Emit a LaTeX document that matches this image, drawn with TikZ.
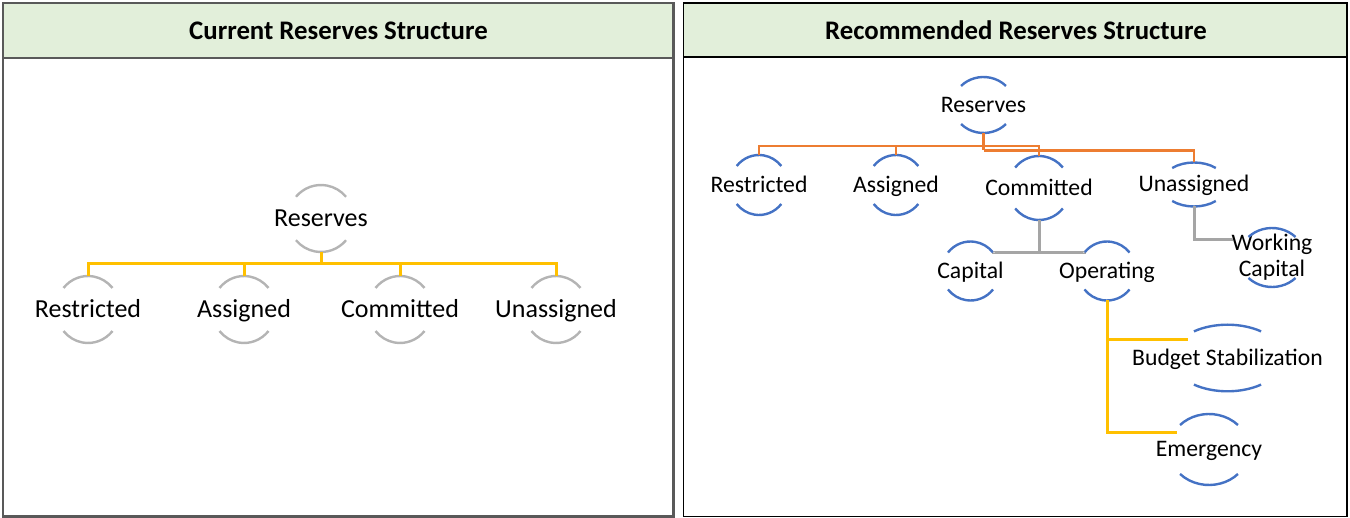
\documentclass[tikz,border=0pt]{standalone}
\usepackage{fontspec}
\setmainfont{Carlito}
\definecolor{headgreen}{HTML}{E2EFDA}
\definecolor{ringgray}{HTML}{B4B4B4}
\definecolor{ringblue}{HTML}{4472C4}
\definecolor{linkorange}{HTML}{ED7D31}
\definecolor{linkyellow}{HTML}{FFC000}
\definecolor{linkgray}{HTML}{A5A5A5}
\definecolor{framegray}{HTML}{595959}

% #1 arc style, #2 name, #3 x, #4 y, #5 x radius, #6 y radius,
% #7 half-opening angle of each arc, #8 label style, #9 label text
\newcommand\halo[9]{%
  \pgfmathsetmacro\hx{#5*cos(#7)}%
  \pgfmathsetmacro\hy{#6*sin(#7)}%
  \node[#8] (#2) at (#3,#4) {#9};
  \coordinate (#2-t) at (#3,#4-#6);
  \coordinate (#2-b) at (#3,#4+#6);
  \coordinate (#2-tl) at (#3-\hx,#4-\hy);
  \coordinate (#2-tr) at (#3+\hx,#4-\hy);
  \draw[#1] (#2-tl) arc[start angle={180+#7}, end angle={360-#7}, x radius=#5, y radius=#6];
  \draw[#1] (#3+\hx,#4+\hy) arc[start angle=#7, end angle={180-#7}, x radius=#5, y radius=#6];
}

\begin{document}
\begin{tikzpicture}[x=1pt,y=-1pt,
  header/.style={fill=headgreen},
  title/.style={font=\fontsize{26.8}{30}\selectfont\bfseries},
  ltext/.style={font=\fontsize{26}{30}\selectfont, inner sep=0pt, anchor=base, yshift=-0.32em-4.5pt},
  rtext/.style={font=\fontsize{23.7}{27}\selectfont, inner sep=0pt, anchor=base, yshift=-0.32em-4pt},
  graying/.style={draw=ringgray, line width=2.4pt},
  bluering/.style={draw=ringblue, line width=2.4pt},
  yellink/.style={draw=linkyellow, line width=3pt},
  oranlink/.style={draw=linkorange, line width=2.4pt},
  graylink/.style={draw=linkgray, line width=3pt}]
\useasboundingbox (0,0) rectangle (1350,518);

% left panel
\draw[header, draw=framegray, line width=1.4pt] (3,3) rectangle (673.5,58);
\draw[draw=framegray, line width=2.6pt] (3,3) rectangle (673.5,516.5);
\node[title] (ltitle) at (338.5,31) {Current Reserves Structure};

% right panel
\draw[header, draw=black, line width=1.2pt] (683.5,3) rectangle (1347,57);
\draw[draw=black, line width=1.4pt] (683.5,3) rectangle (1347,516.5);
\node[title] (rtitle) at (1016,30) {Recommended Reserves Structure};

% current structure
\halo{graying}{l0}{321}{218.5}{32.9}{33.5}{40.5}{ltext}{Reserves}
\halo{graying}{l1}{88}{309.5}{32}{33.5}{40}{ltext}{Restricted}
\halo{graying}{l2}{244}{309.5}{32}{33.5}{40}{ltext}{Assigned}
\halo{graying}{l3}{400}{309.5}{32}{33.5}{40}{ltext}{Committed}
\halo{graying}{l4}{556}{309.5}{32}{33.5}{40}{ltext}{Unassigned}

\coordinate (ljoin) at (321,264);
\draw[yellink] (l0-b) -- (ljoin);
\draw[yellink] (l1-t) |- (ljoin) -| (l4-t);
\draw[yellink] (l2-t) -- (l2-t |- ljoin);
\draw[yellink] (l3-t) -- (l3-t |- ljoin);

% recommended structure
\halo{bluering}{r0}{983.5}{105}{30.6}{28}{42.8}{rtext}{Reserves}
\halo{bluering}{r1}{759}{185}{28.8}{30}{39.3}{rtext}{Restricted}
\halo{bluering}{r2}{896}{185}{28.8}{30}{39.3}{rtext}{Assigned}
\halo{bluering}{r3}{1039}{188}{31}{32}{39.8}{rtext}{Committed}
\halo{bluering}{r4}{1194}{184.5}{33}{22}{48.6}{rtext}{Unassigned}
\halo{bluering}{cap}{970.5}{271}{28.9}{29.5}{38.8}{rtext}{Capital}
\halo{bluering}{op}{1107}{271}{28.9}{29.5}{38.8}{rtext}{Operating}
\halo{bluering}{wc}{1272}{257.5}{32.7}{29.5}{44}{font=\fontsize{23.7}{26}\selectfont, inner sep=0pt, align=center}{Working\\Capital}
\halo{bluering}{bs}{1227.5}{358}{55.8}{33.3}{53}{rtext}{Budget Stabilization}
\halo{bluering}{em}{1209}{449.5}{40}{35.5}{43.6}{rtext}{Emergency}

% orange links below Reserves
\coordinate (rjoin) at (983.5,146);
\coordinate (rjoin2) at (983.5,150.5);
\draw[oranlink] (r0-b) -- (rjoin2);
\draw[oranlink] (r1-t) |- (rjoin) -| (r3-t);
\draw[oranlink] (r2-t) -- (r2-t |- rjoin);
\draw[oranlink] (rjoin2) -| (r4-t);

% gray links
\coordinate (cjoin) at (1039,253);
\draw[graylink] (r3-b) -- (cjoin);
\draw[graylink] (cap-tr) |- (cjoin) -| (op-tl);
\coordinate (wcin) at (1233,239.5);
\draw[graylink] (r4-b) |- (wcin);

% yellow links below Operating
\coordinate (bsin) at (1188,340);
\coordinate (emin) at (1177,433);
\draw[yellink] (op-b) |- (emin);
\draw[yellink] (op-b |- bsin) -- (bsin);
\end{tikzpicture}
\end{document}
